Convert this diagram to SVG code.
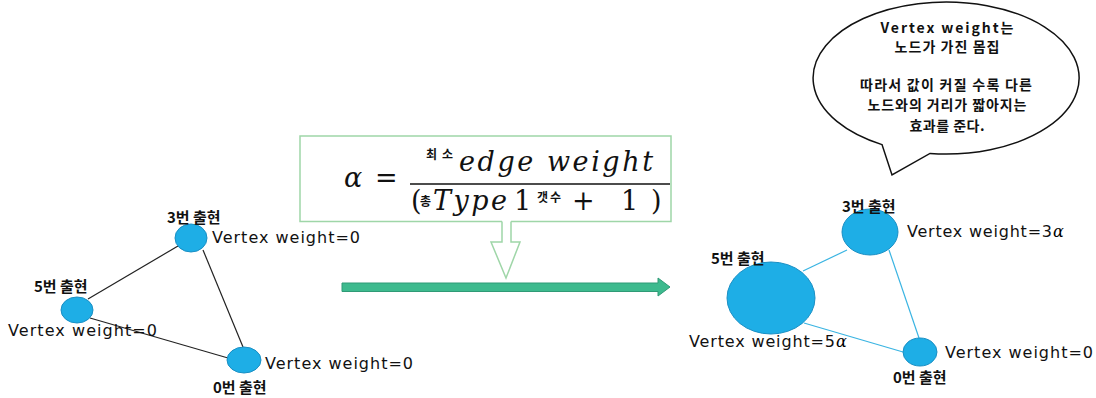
<svg xmlns="http://www.w3.org/2000/svg" width="1096" height="398" viewBox="0 0 1096 398">
<style>
.lbl{font-family:"DejaVu Sans","Noto Sans CJK KR",sans-serif;font-size:16px;fill:#111}
.kr{font-family:"Noto Sans CJK KR",sans-serif;font-size:15px;font-weight:bold;fill:#111}
.node{fill:#1eaee6;stroke:#1a8fc4;stroke-width:1}
.math{font-family:"DejaVu Serif","Liberation Serif",serif;font-size:27px;fill:#111}
.mk{font-family:"Noto Sans CJK KR",sans-serif;font-size:12px;font-weight:bold;fill:#111}
.bub{font-family:"Noto Sans CJK KR",sans-serif;font-size:14px;font-weight:bold;fill:#111;text-anchor:middle}
.al{font-family:"DejaVu Serif",serif;font-style:italic;font-size:16px}
</style>
<rect width="1096" height="398" fill="#fff"/>
<g id="connectors">
<line x1="178" y1="246" x2="88" y2="299" stroke="#222" stroke-width="1.2"/>
<line x1="203" y1="250" x2="243" y2="347" stroke="#222" stroke-width="1.2"/>
<line x1="90" y1="318" x2="228" y2="358" stroke="#222" stroke-width="1.2"/>
<line x1="803" y1="271" x2="847" y2="250" stroke="#3ab4e2" stroke-width="1.2"/>
<line x1="889" y1="250" x2="919" y2="338" stroke="#3ab4e2" stroke-width="1.2"/>
<line x1="804" y1="323" x2="903" y2="352" stroke="#3ab4e2" stroke-width="1.2"/>
<path d="M342 283 H658 V278 L670 287 L658 296 V291.5 H342 Z" fill="#3dba8e" stroke="#2f9a76" stroke-width="1"/>
</g>
<g id="formula">
<path d="M502 221.5 H300 V136 H671 V221.5 H511" fill="#fff" stroke="#9fd6a8" stroke-width="1.5"/>
<path d="M502 221.5 V242 H491 L506 278 L520 242 H511 V221.5" fill="#fff" stroke="#9fd6a8" stroke-width="1.5"/>
<text class="math" x="344" y="187" font-style="italic" textLength="21">α</text>
<text class="math" x="375" y="187" textLength="23">=</text>
<text class="mk" x="426" y="159" textLength="27">최소</text>
<text class="math" x="459" y="171" font-style="italic" textLength="194">edge weight</text>
<line x1="410" y1="184" x2="670" y2="184" stroke="#111" stroke-width="1.5"/>
<text class="math" x="411" y="210">(</text>
<text class="mk" x="420" y="206" font-size="11">총</text>
<text class="math" x="433" y="210" font-style="italic" textLength="74">Type</text>
<text class="math" x="514" y="210">1</text>
<text class="mk" x="537" y="202" font-size="11" textLength="24">갯수</text>
<text class="math" x="572" y="210">+</text>
<text class="math" x="621" y="210">1</text>
<text class="math" x="651" y="210">)</text>
</g>
<g id="L3"><ellipse class="node" cx="191" cy="238" rx="16" ry="14"/><text class="kr" x="167" y="223">3번 출현</text><text class="lbl" x="212" y="243" textLength="148">Vertex weight=0</text></g>
<g id="L5"><ellipse class="node" cx="77" cy="310" rx="16" ry="13"/><text class="kr" x="34" y="292">5번 출현</text><text class="lbl" x="8" y="336" textLength="149">Vertex weight=0</text></g>
<g id="L0"><ellipse class="node" cx="244" cy="360" rx="17" ry="13"/><text class="lbl" x="265" y="369" textLength="148">Vertex weight=0</text><text class="kr" x="213" y="393">0번 출현</text></g>
<g id="R3"><ellipse class="node" cx="870" cy="232" rx="28" ry="23"/><text class="kr" x="842" y="212">3번 출현</text><text class="lbl" x="907" y="237" textLength="145">Vertex weight=3</text><text class="al" x="1053" y="237">α</text></g>
<g id="R5"><ellipse class="node" cx="771" cy="298" rx="44" ry="36"/><text class="kr" x="711" y="264">5번 출현</text><text class="lbl" x="689" y="347" textLength="146">Vertex weight=5</text><text class="al" x="836" y="347">α</text></g>
<g id="R0"><ellipse class="node" cx="920" cy="352" rx="17" ry="14"/><text class="lbl" x="945" y="358" textLength="148">Vertex weight=0</text><text class="kr" x="893" y="383">0번 출현</text></g>
<g id="bubble">
<path d="M882 144.6 A133 76 0 1 1 930 153.45 L892 175 Z" fill="#fff" stroke="#111" stroke-width="1.5"/>
<text class="bub" x="947" y="33" font-size="12" textLength="133">Vertex weight는</text>
<text class="bub" x="947" y="52" font-size="12" textLength="105">노드가 가진 몸집</text>
<text class="bub" x="946" y="90" textLength="172">따라서 값이 커질 수록 다른</text>
<text class="bub" x="947" y="110" textLength="159">노드와의 거리가 짧아지는</text>
<text class="bub" x="947" y="131" textLength="75">효과를 준다.</text>
</g>
</svg>
